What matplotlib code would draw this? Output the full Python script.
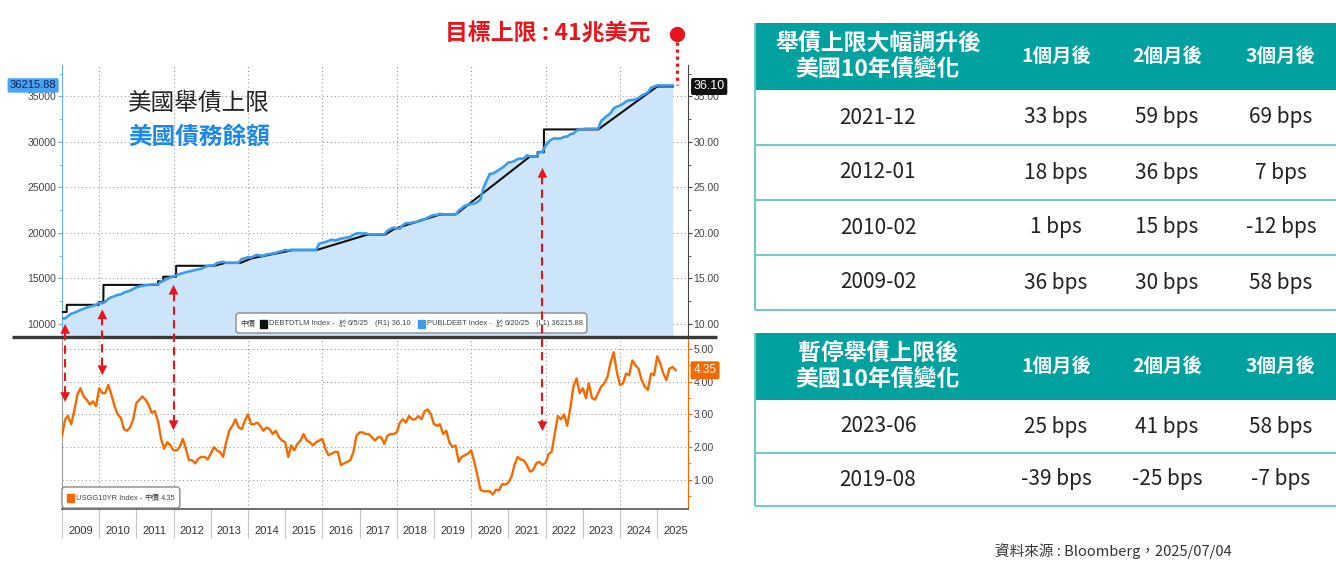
import matplotlib
matplotlib.use("Agg")
import matplotlib.pyplot as plt
import matplotlib.dates as mdates
from matplotlib.patches import Rectangle, FancyBboxPatch
from matplotlib.ticker import FixedLocator, MultipleLocator, FormatStrFormatter, NullFormatter
import pandas as pd

CJK = ["Noto Sans CJK TC", "DejaVu Sans"]
NARROW = ["Liberation Sans Narrow", "Liberation Sans", "Noto Sans CJK TC"]
plt.rcParams["font.family"] = CJK

# ---------------- data ----------------
# debt ceiling (DEBTDTLM), billions USD
ceiling_dates = ["2009-01-01", "2009-02-16", "2009-02-17", "2009-12-27", "2009-12-28",
                 "2010-02-11", "2010-02-12", "2011-08-01", "2011-08-02", "2011-09-21",
                 "2011-09-22", "2012-01-26", "2012-01-27", "2013-02-03", "2013-05-19",
                 "2013-10-16", "2014-02-07", "2015-03-15", "2015-11-01", "2017-03-15",
                 "2017-09-07", "2017-12-08", "2019-03-01", "2019-08-01", "2021-07-31",
                 "2021-10-14", "2021-10-15", "2021-12-15", "2021-12-16", "2023-06-02",
                 "2025-01-01", "2025-06-05"]
ceiling_values = [11315, 11315, 12104, 12104, 12394, 12394, 14294, 14294, 14694, 14694,
                  15194, 15194, 16394, 16394, 16699, 16699, 17212, 18113, 18113, 19809,
                  19809, 20456, 22030, 22030, 28401, 28401, 28881, 28881, 31381, 31381,
                  36100, 36100]

# public debt outstanding (PUBLDEBT), billions USD, month starts from 2009-01
debt_start = "2009-01-01"
debt_values = [
    10600, 10630, 10875, 11127, 11238, 11367, 11545, 11668, 11813, 11909, 11995, 12112,
    12311, 12278, 12439, 12773, 12948, 13050, 13201, 13238, 13450, 13561, 13668, 13861,
    14025, 14131, 14195, 14270, 14288, 14344, 14343, 14342, 14684, 14790, 14974, 15111,
    15223, 15356, 15492, 15582, 15692, 15770, 15856, 15928, 16016, 16066, 16261, 16370,
    16433, 16433, 16687, 16771, 16829, 16738, 16738, 16738, 16738, 16738, 17156, 17217,
    17352, 17293, 17463, 17601, 17508, 17517, 17632, 17687, 17749, 17824, 17937, 18005,
    18141, 18082, 18156, 18152, 18152, 18153, 18152, 18151, 18151, 18151, 18153, 18827,
    18922, 19013, 19126, 19265, 19187, 19265, 19381, 19428, 19510, 19573, 19805, 19948,
    19977, 19937, 19959, 19846, 19846, 19846, 19844, 19845, 19844, 20245, 20442, 20590,
    20493, 20494, 20855, 21089, 21068, 21145, 21195, 21313, 21458, 21516, 21702, 21850,
    21974, 21982, 22115, 22028, 22027, 22026, 22023, 22022, 22465, 22719, 23008, 23076,
    23201, 23223, 23409, 23686, 24974, 25746, 26477, 26525, 26728, 26945, 27165, 27428,
    27748, 27787, 27902, 28132, 28173, 28183, 28529, 28427, 28428, 28428, 28908, 28908,
    29617, 30012, 30292, 30401, 30372, 30400, 30568, 30598, 30856, 30929, 31238, 31413,
    31420, 31455, 31459, 31458, 31458, 31465, 32332, 32608, 32914, 33167, 33700, 33880,
    34001, 34195, 34471, 34586, 34617, 34673, 34832, 35100, 35269, 35464, 35950, 36088,
    36218, 36215, 36215, 36215, 36215, 36215.88,
]

# US 10Y yield (USGG10YR), %, month starts from 2009-01
yield_start = "2009-01-01"
yield_values = [
    2.35, 2.85, 2.95, 2.70, 3.10, 3.60, 3.80, 3.55, 3.45, 3.30, 3.40, 3.25,
    3.80, 3.65, 3.65, 3.90, 3.60, 3.25, 3.00, 2.90, 2.55, 2.50, 2.60, 2.85,
    3.35, 3.45, 3.55, 3.45, 3.30, 3.05, 3.10, 2.80, 2.25, 1.95, 2.15, 2.05,
    1.90, 1.90, 2.00, 2.25, 1.95, 1.60, 1.60, 1.50, 1.65, 1.70, 1.70, 1.62,
    1.80, 2.00, 1.90, 1.85, 1.70, 2.15, 2.50, 2.65, 2.85, 2.60, 2.55, 2.80,
    3.00, 2.70, 2.70, 2.75, 2.65, 2.50, 2.60, 2.55, 2.40, 2.50, 2.30, 2.20,
    2.15, 1.70, 2.05, 1.90, 2.10, 2.20, 2.40, 2.20, 2.15, 2.05, 2.15, 2.20,
    2.25, 1.95, 1.75, 1.80, 1.85, 1.85, 1.45, 1.50, 1.55, 1.60, 1.85, 2.35,
    2.45, 2.45, 2.40, 2.40, 2.30, 2.20, 2.30, 2.30, 2.10, 2.35, 2.40, 2.40,
    2.45, 2.75, 2.85, 2.75, 2.95, 2.85, 2.85, 2.95, 2.85, 3.10, 3.15, 3.00,
    2.70, 2.65, 2.70, 2.40, 2.50, 2.15, 2.00, 2.05, 1.55, 1.70, 1.75, 1.80,
    1.90, 1.55, 1.15, 0.70, 0.65, 0.65, 0.65, 0.55, 0.70, 0.68, 0.87, 0.85,
    0.92, 1.10, 1.45, 1.70, 1.62, 1.60, 1.45, 1.25, 1.30, 1.50, 1.55, 1.45,
    1.52, 1.80, 1.85, 2.40, 2.95, 2.85, 3.00, 2.65, 3.20, 3.85, 4.10, 3.65,
    3.80, 3.50, 3.95, 3.50, 3.45, 3.65, 3.85, 3.95, 4.15, 4.60, 4.90, 4.30,
    3.90, 3.95, 4.25, 4.20, 4.65, 4.50, 4.40, 4.05, 3.85, 3.75, 4.25, 4.20,
    4.78, 4.55, 4.25, 4.05, 4.40, 4.45, 4.35,
]

target_value = 41000  # 目標上限

# table: yield change after ceiling raised
raise_dates = ["2021-12", "2012-01", "2010-02", "2009-02"]
raise_1m = [33, 18, 1, 36]
raise_2m = [59, 36, 15, 30]
raise_3m = [69, 7, -12, 58]

# table: yield change after ceiling suspended
suspend_dates = ["2023-06", "2019-08"]
suspend_1m = [25, -39]
suspend_2m = [41, -25]
suspend_3m = [58, -7]

month_heads = ["1個月後", "2個月後", "3個月後"]

# ---------------- styles ----------------
BLUE = "#3d9be9"
FILL = "#cce5fb"
ORANGE = "#f56a00"
RED = "#e8141c"
TEAL = "#00a19f"
TLINE = "#74c9c6"
GRID = dict(color="#9a9a9a", lw=0.8, ls=(0, (1, 2.5)))

W, H = 1336, 565
fig = plt.figure(figsize=(W / 100, H / 100), dpi=100)


def frac(l, t, r, b):
    return [l / W, 1 - b / H, (r - l) / W, (b - t) / H]


ax1 = fig.add_axes(frac(62, 65, 688, 336))
ax2 = fig.add_axes(frac(62, 338, 688, 509))
ax1r = ax1.twinx()

cd = pd.to_datetime(ceiling_dates)
dd = pd.date_range(debt_start, periods=len(debt_values), freq="MS")
yd = pd.date_range(yield_start, periods=len(yield_values), freq="MS")
xlim = (pd.Timestamp("2009-01-01"), pd.Timestamp("2025-10-30"))

# ---- top panel ----
y1lim = (8680, 38460)
ax1.set_xlim(xlim)
ax1.set_ylim(y1lim)
ax1r.set_ylim(y1lim[0] / 1000, y1lim[1] / 1000)
ax1.fill_between(dd, debt_values, y1lim[0], color=FILL, lw=0, zorder=1)
ax1.plot(cd, ceiling_values, color="#111111", lw=1.5, zorder=3)
ax1.plot(dd, debt_values, color=BLUE, lw=1.9, zorder=4)

ax1.set_yticks(range(10000, 35001, 5000))
ax1.yaxis.set_minor_locator(FixedLocator(range(12500, 37501, 5000)))
ax1.tick_params(axis="y", which="both", colors="#6db3f2", labelcolor="#444444",
                labelsize=7.5, length=3, direction="out", pad=1)
ax1.tick_params(axis="y", which="minor", length=2)
ax1.tick_params(axis="x", which="both", bottom=False, labelbottom=False)
for lab in ax1.get_yticklabels():
    lab.set_family(NARROW)
ax1r.set_yticks(range(10, 36, 5))
ax1r.yaxis.set_major_formatter(FormatStrFormatter("%.2f"))
ax1r.yaxis.set_minor_locator(MultipleLocator(2.5))
ax1r.tick_params(axis="y", which="both", colors="#444444", labelsize=7.5, length=3, pad=1)
ax1r.tick_params(axis="y", which="minor", length=2)
for lab in ax1r.get_yticklabels():
    lab.set_family(NARROW)

for s in ["top", "bottom", "right"]:
    ax1.spines[s].set_visible(False)
ax1.spines["left"].set_color("#6db3f2")
for s in ["top", "bottom", "left"]:
    ax1r.spines[s].set_visible(False)
ax1r.spines["right"].set_color("#444444")

ax1.set_axisbelow(True)
ax1.grid(axis="y", **GRID)
for yr in range(2010, 2025, 2):
    for ax in (ax1, ax2):
        ax.axvline(pd.Timestamp(f"{yr}-01-01"), zorder=0.5, **GRID)

# value tags at the axes
ax1.annotate(f"{debt_values[-1]:.2f}", xy=(0, debt_values[-1]), xycoords=("axes fraction", "data"),
             xytext=(-4, 0), textcoords="offset points", ha="right", va="center",
             fontsize=8, color="#10205a", family=NARROW,
             bbox=dict(boxstyle="round,pad=0.2,rounding_size=0.15", fc="#4aa3ef", ec="none"))
ax1r.annotate(f"{ceiling_values[-1] / 1000:.2f}", xy=(1, ceiling_values[-1] / 1000),
              xycoords=("axes fraction", "data"), xytext=(4, 0), textcoords="offset points",
              ha="left", va="center", fontsize=9, color="white", family=NARROW,
              bbox=dict(boxstyle="round,pad=0.2,rounding_size=0.15", fc="#111111", ec="none"))

# target ceiling marker
target_x = pd.Timestamp("2025-07-15")
ax1.plot([target_x, target_x], [target_value, ceiling_values[-1] + 200], color=RED,
         lw=2.3, ls=(0, (1, 1.2)), clip_on=False, zorder=5)
ax1.plot([target_x], [target_value + 900], "o", ms=10, color=RED, clip_on=False, zorder=6)
ax1.annotate(f"目標上限 : {target_value // 1000}兆美元", xy=(target_x, target_value + 900),
             xytext=(-27, 0), textcoords="offset pixels", ha="right", va="center",
             fontsize=16.5, fontweight="bold", color=RED, annotation_clip=False)

# ---- bottom panel ----
ax2.set_xlim(xlim)
ax2.set_ylim(0.107, 5.336)
ax2.plot(yd, yield_values, color=ORANGE, lw=1.7, zorder=3)
ax2.yaxis.tick_right()
ax2.set_yticks([1, 2, 3, 4, 5])
ax2.yaxis.set_major_formatter(FormatStrFormatter("%.2f"))
ax2.yaxis.set_minor_locator(MultipleLocator(0.5))
ax2.tick_params(axis="y", which="both", colors=ORANGE, labelcolor="#444444",
                labelsize=7.5, length=3, pad=1)
ax2.tick_params(axis="y", which="minor", length=2)
for lab in ax2.get_yticklabels():
    lab.set_family(NARROW)
ax2.set_axisbelow(True)
ax2.grid(axis="y", **GRID)
ax2.spines["top"].set_visible(False)
ax2.spines["left"].set_color("#999999")
ax2.spines["right"].set_color(ORANGE)
ax2.spines["bottom"].set_color("#555555")
ax2.spines["bottom"].set_linewidth(1.2)

ax2.xaxis.set_major_locator(mdates.YearLocator())
ax2.xaxis.set_major_formatter(NullFormatter())
ax2.xaxis.set_minor_locator(mdates.MonthLocator(bymonth=7))
ax2.xaxis.set_minor_formatter(mdates.DateFormatter("%Y"))
ax2.tick_params(axis="x", which="major", length=21, width=0.8, color="#c4c4c4")
ax2.tick_params(axis="x", which="minor", length=0, pad=12, labelsize=8, labelcolor="#333333")
for lab in ax2.get_xticklabels(minor=True):
    lab.set_family(NARROW)

ax2.annotate(f"{yield_values[-1]:.2f}", xy=(1, yield_values[-1]), xycoords=("axes fraction", "data"),
             xytext=(4, 0), textcoords="offset points", ha="left", va="center",
             fontsize=8.5, color="#fff3e0", family=NARROW,
             bbox=dict(boxstyle="round,pad=0.25,rounding_size=0.15", fc=ORANGE, ec="none"))

# ---------------- overlay in pixel coordinates ----------------
ov = fig.add_axes([0, 0, 1, 1], zorder=10)
ov.set_xlim(0, W)
ov.set_ylim(H, 0)
ov.axis("off")
ov.patch.set_alpha(0)


def to_px(ax, x, y):
    return ov.transData.inverted().transform(ax.transData.transform((x, y)))


# separator between the two panels
ov.plot([12, 717], [337, 337], color="#3a3a3a", lw=2.4, solid_capstyle="butt", zorder=1)

# ---- red arrows linking ceiling raises with yields ----
arrow_top = {"2009-02": 10000, "2010-02": 11600, "2012-01": 14300, "2021-12": 27150}
arrow_bottom = {"2009-02": 3.38, "2010-02": 4.20, "2012-01": 2.52, "2021-12": 2.49}
head = dict(arrowstyle="-|>,head_length=0.7,head_width=0.35", color=RED, lw=0,
            shrinkA=0, shrinkB=0, mutation_scale=10)
for d in raise_dates:
    x = mdates.date2num(pd.Timestamp(d + "-01"))
    x0, ytop = to_px(ax1, x, arrow_top[d])
    _, ybot = to_px(ax2, x, arrow_bottom[d])
    ov.plot([x0, x0], [ytop + 8, ybot - 8], color=RED, lw=1.5, ls=(0, (4, 2.5)), zorder=8)
    ov.annotate("", xy=(x0, ytop), xytext=(x0, ytop + 11), arrowprops=head, zorder=9)
    ov.annotate("", xy=(x0, ybot), xytext=(x0, ybot - 11), arrowprops=head, zorder=9)

ov.text(128, 103, "美國舉債上限", fontsize=17, color="#222222", va="center", ha="left")
ov.text(128, 137, "美國債務餘額", fontsize=17, color="#1e88e5", fontweight="bold",
        va="center", ha="left")

# ---- legends, laid out piece by piece ----
renderer = fig.canvas.get_renderer()
LG = dict(fontsize=5.4, color="#444444", va="center", ha="left", zorder=4)


def flow(x, y, pieces):
    for kind, val, gap in pieces:
        if kind == "sq":
            ov.add_patch(Rectangle((x, y - 4), 7, 8, color=val, zorder=4))
            x += 7 + gap
        else:
            fam = CJK if kind == "cjk" else NARROW
            t = ov.text(x, y, val, family=fam, **LG)
            x += t.get_window_extent(renderer).width + gap
    return x


leg_top = [("cjk", "中價", 5), ("sq", "#111111", 2), ("txt", "DEBTDTLM Index -", 4),
           ("cjk", "於", 2), ("txt", "6/5/25", 6), ("txt", f"(R1) {ceiling_values[-1] / 1000:.2f}", 7),
           ("sq", BLUE, 2), ("txt", "PUBLDEBT Index -", 4), ("cjk", "於", 2),
           ("txt", "6/20/25", 6), ("txt", f"(L1) {debt_values[-1]:.2f}", 0)]
end = flow(240, 323.5, leg_top)
ov.add_patch(FancyBboxPatch((236, 313), end - 236 + 4, 20, boxstyle="round,pad=0,rounding_size=3",
                            fc="white", ec="#8a8a8a", lw=1, zorder=3))

leg_bot = [("sq", ORANGE, 2), ("txt", "USGG10YR Index -", 2), ("cjk", "中價", 2),
           ("txt", f"{yield_values[-1]:.2f}", 0)]
end = flow(67, 498, leg_bot)
ov.add_patch(FancyBboxPatch((62, 487), end - 62 + 4, 21, boxstyle="round,pad=0,rounding_size=3",
                            fc="white", ec="#8a8a8a", lw=1, zorder=3))

# ---- tables ----
col_x = [878, 1056, 1167, 1281]


def draw_table(top, head_h, row_h, title, dates, c1, c2, c3):
    x0, x1 = 755, W
    ov.add_patch(Rectangle((x0, top), x1 - x0, head_h, color=TEAL, lw=0))
    ov.text(col_x[0], top + head_h / 2, title, ha="center", va="center", fontsize=16.5,
            fontweight="bold", color="white", linespacing=1.1)
    for cx, h in zip(col_x[1:], month_heads):
        ov.text(cx, top + head_h / 2, h, ha="center", va="center", fontsize=14,
                fontweight="bold", color="white")
    y = top + head_h
    for i, row in enumerate(zip(dates, c1, c2, c3)):
        yc = y + row_h * (i + 0.5)
        ov.text(col_x[0], yc, row[0], ha="center", va="center", fontsize=15, color="#222222")
        for cx, v in zip(col_x[1:], row[1:]):
            ov.text(cx, yc, f"{v} bps", ha="center", va="center", fontsize=15, color="#222222")
        ov.plot([x0, x1], [y + row_h * (i + 1)] * 2, color=TLINE, lw=1.5, solid_capstyle="butt")
    ov.plot([x0, x0], [top, y + row_h * len(dates)], color=TLINE, lw=1.5, solid_capstyle="butt")


draw_table(23, 67, 55, "舉債上限大幅調升後\n美國10年債變化", raise_dates, raise_1m, raise_2m, raise_3m)
draw_table(333, 67, 53, "暫停舉債上限後\n美國10年債變化", suspend_dates, suspend_1m, suspend_2m, suspend_3m)

ov.text(995, 551, "資料來源 : Bloomberg，2025/07/04", fontsize=10.5, color="#333333",
        ha="left", va="center")

fig.savefig("out.png", dpi=100)
